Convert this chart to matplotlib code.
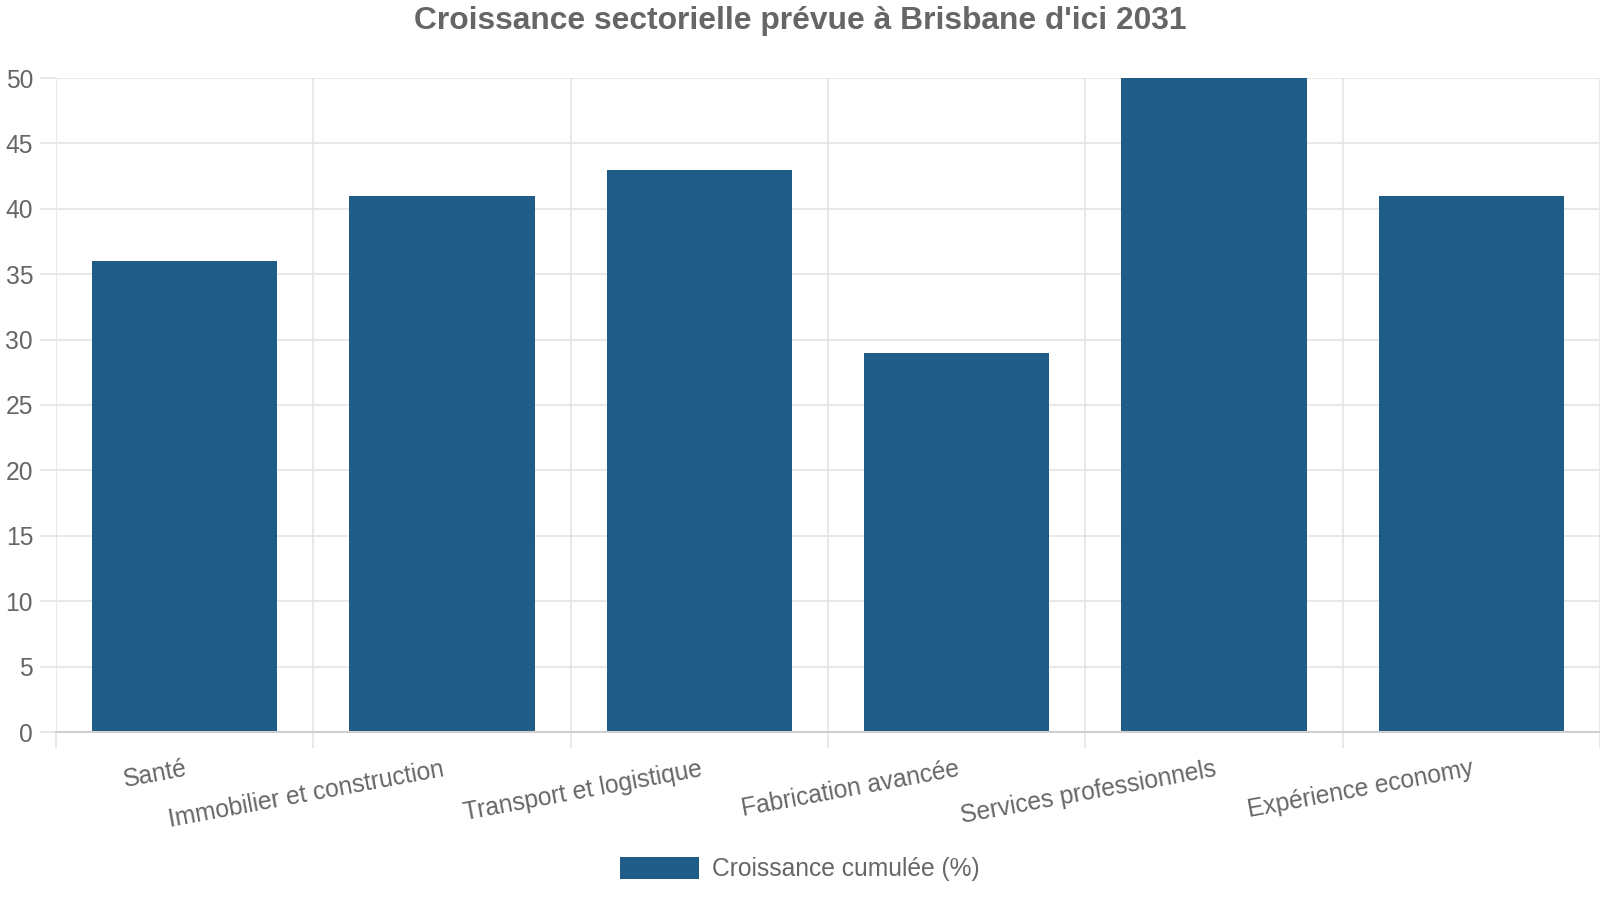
import numpy as np
import matplotlib
matplotlib.use('Agg')
from matplotlib import pyplot as plt

plt.rcParams['font.family'] = ['Liberation Sans', 'DejaVu Sans']

# --- data ---
categories = ['Santé', 'Immobilier et construction', 'Transport et logistique',
              'Fabrication avancée', 'Services professionnels', 'Expérience economy']
growth = [36, 41, 43, 29, 50, 41]
yticks = [0, 5, 10, 15, 20, 25, 30, 35, 40, 45, 50]

title = "Croissance sectorielle prévue à Brisbane d'ici 2031"
series_label = 'Croissance cumulée (%)'

bar_color = '#205d86'
text_color = '#666666'
grid_color = '#e4e4e4'
fs = 17.7

fig = plt.figure(figsize=(16, 9), dpi=100)
ax = fig.add_axes([56 / 1600, 1 - 732 / 900, 1 - 56 / 1600, (732 - 78) / 900])

x = np.arange(len(categories))
ax.bar(x, growth, width=0.72, color=bar_color, label=series_label, zorder=2)

ax.set_xlim(-0.5, len(categories) - 0.5)
ax.set_ylim(0, 50)

# y axis
ax.set_yticks(yticks)
ax.tick_params(axis='y', length=11.5, width=1.2, color=grid_color, pad=5,
               labelsize=fs, labelcolor=text_color)
ax.grid(axis='y', color=grid_color, linewidth=1.2, zorder=0)

# x axis: labels at centers, grid lines at category edges
ax.set_xticks(x)
ax.set_xticklabels(categories)
ax.tick_params(axis='x', which='major', length=0, pad=18,
               labelsize=fs, labelcolor=text_color)
for lbl in ax.get_xticklabels():
    lbl.set_rotation(10.5)
    lbl.set_rotation_mode('anchor')
    lbl.set_ha('right')
    lbl.set_va('top')
ax.set_xticks(np.arange(-0.5, len(categories)), minor=True)
ax.tick_params(axis='x', which='minor', length=11.5, width=1.2, color=grid_color)
ax.grid(axis='x', which='minor', color=grid_color, linewidth=1.2, zorder=0)

for s in ['top', 'right', 'left']:
    ax.spines[s].set_visible(False)
ax.spines['bottom'].set_color('#cfcfcf')
ax.spines['bottom'].set_linewidth(1.5)
ax.spines['bottom'].set_zorder(3)

fig.text(0.5, 1 - 21 / 900, title, ha='center', va='center',
         fontsize=22.9, fontweight='bold', color=text_color)

fig.legend(loc='center', bbox_to_anchor=(0.5, 1 - 869 / 900), frameon=False,
           fontsize=fs, labelcolor=text_color, handlelength=3.2,
           handleheight=1.0, handletextpad=0.55)

fig.savefig('out.png', dpi=100)
